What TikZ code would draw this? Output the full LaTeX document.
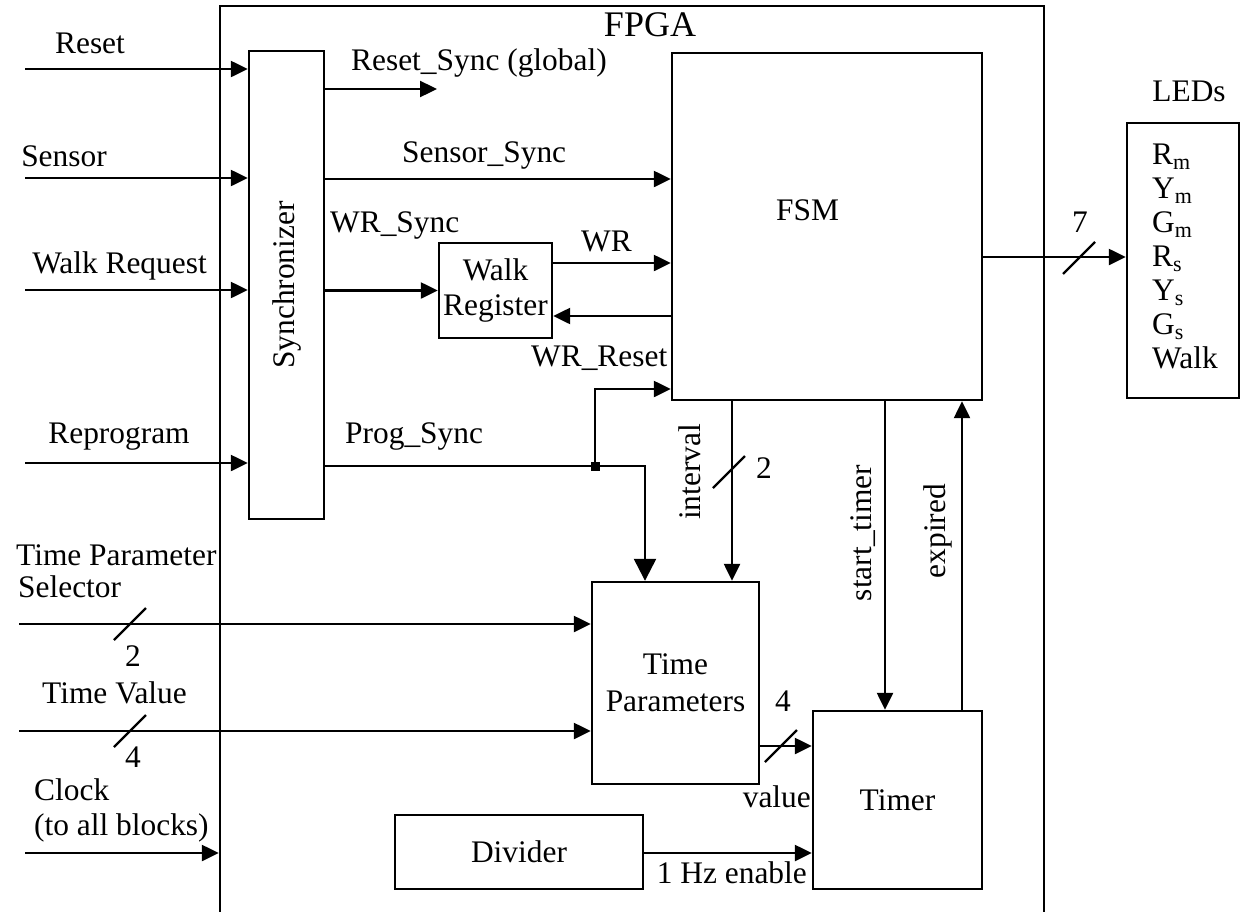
\documentclass[tikz,border=0pt]{standalone}
\usepackage{fontspec}
\setmainfont{Liberation Serif}
\usetikzlibrary{arrows.meta}

\begin{document}
\begin{tikzpicture}[x=0.5pt,y=-0.5pt,line width=1.2pt,
		font=\fontsize{15.7}{17}\selectfont,
		blk/.style={draw,rectangle,inner sep=0pt,align=center},
		sig/.style={-{Triangle[length=8.5pt,width=8pt]}},
		bigsig/.style={-{Triangle[length=11pt,width=11pt]}},
		lbl/.style={anchor=base,inner sep=0pt},
		vlbl/.style={rotate=90,inner sep=0pt}]
	\useasboundingbox (0,0) rectangle (1243,911);
	% blocks
	\node[blk,minimum width=412pt,minimum height=477pt] (fpga) at (632,483) {};
	\node[blk,minimum width=37.5pt,minimum height=234pt] (sync) at (286.5,285) {\rotatebox{90}{Synchronizer}};
	\node[blk,minimum width=155pt,minimum height=173.5pt] (fsm) at (827,226.5) {};
	\node[blk,minimum width=56.5pt,minimum height=47.5pt] (wreg) at (495.5,290.5) {Walk\\[0.5pt]Register};
	\node[blk,minimum width=83.5pt,minimum height=101pt] (tpar) at (675.5,683) {Time\\[1.5pt]Parameters};
	\node[blk,minimum width=84.5pt,minimum height=89pt] (timer) at (897.5,800) {Timer};
	\node[blk,minimum width=124pt,minimum height=37pt] (divider) at (519,852) {Divider};
	\node[blk,minimum width=56pt,minimum height=137.5pt] (leds) at (1183,260.5) {};
	\node[anchor=north west,align=left,inner sep=0pt] (ledlist) at (1151,143)
		{R\textsubscript{m}\\Y\textsubscript{m}\\G\textsubscript{m}\\R\textsubscript{s}\\Y\textsubscript{s}\\G\textsubscript{s}\\Walk};
	% inputs
	\coordinate (inRst) at (25,69);
	\coordinate (inSns) at (25,178);
	\coordinate (inWalk) at (25,290);
	\coordinate (inProg) at (25,463);
	\coordinate (inSel) at (19,624);
	\coordinate (inVal) at (19,731);
	\coordinate (inClk) at (25,853);
	\foreach \c in {inRst,inSns,inWalk,inProg}
		\draw[sig] (\c) -- (\c -| sync.west);
	\draw[sig] (inSel) -- (inSel -| tpar.west);
	\draw[sig] (inVal) -- (inVal -| tpar.west);
	\draw[sig] (inClk) -- (inClk -| fpga.west);
	% internal signals
	\coordinate (rsEnd) at (437,89);
	\draw[sig] (sync.east |- rsEnd) -- (rsEnd);
	\draw[sig] (sync.east |- 0,179) -- (fsm.west |- 0,179);
	\draw[sig] (sync.east |- wreg.west) -- (wreg.west);
	\draw[sig] (wreg.east |- 0,263) -- (fsm.west |- 0,263);
	\draw[sig] (fsm.west |- 0,316) -- (wreg.east |- 0,316);
	\node[fill,minimum size=4.5pt,inner sep=0pt] (jct) at (595,466) {};
	\draw[bigsig] (sync.east |- jct) -- (jct.center) -| (tpar.north -| 645,0);
	\draw[sig] (jct.center) |- (fsm.west |- 0,389);
	\draw[sig] (fsm.south -| 732,0) -- (tpar.north -| 732,0);
	\draw[sig] (fsm.south -| 885,0) -- (timer.north -| 885,0);
	\draw[sig] (timer.north -| 962,0) -- (fsm.south -| 962,0);
	\draw[sig] (tpar.east |- 0,746) -- (timer.west |- 0,746);
	\draw[sig] (divider.east |- 0,853) -- (timer.west |- 0,853);
	\draw[sig] (fsm.east |- 0,257) -- (leds.west |- 0,257);
	% bus marks
	\foreach \p in {(130,624),(130,731),(729,472),(781,746),(1079,258)}
		\draw \p ++(-16,16) -- ++(32,-32);
	% labels
	\node[lbl] (lRst) at (90,53) {Reset};
	\node[lbl] (lSns) at (64,166) {Sensor};
	\node[lbl] (lWalk) at (119.5,273) {Walk Request};
	\node[lbl] (lProg) at (119,443) {Reprogram};
	\node[lbl,anchor=base west] (lSel) at (15,565) {Time Parameter};
	\node[lbl,anchor=base west] (lSel2) at (17,597) {Selector};
	\node[lbl] (lSelW) at (133,666) {2};
	\node[lbl] (lVal) at (114.5,703) {Time Value};
	\node[lbl] (lValW) at (133,767) {4};
	\node[lbl,anchor=base west] (lClk) at (33,800) {Clock};
	\node[lbl,anchor=base west] (lClk2) at (33,835) {(to all blocks)};
	\node[lbl,font=\fontsize{18}{20}\selectfont] (lFpga) at (650,36) {FPGA};
	\node[lbl,anchor=base west] (lFsm) at (775,220) {FSM};
	\node[lbl,anchor=base west] (lRsS) at (350,70) {Reset\_Sync (global)};
	\node[lbl,anchor=base west] (lSnsS) at (401,162) {Sensor\_Sync};
	\node[lbl,anchor=base west] (lWrS) at (329,232) {WR\_Sync};
	\node[lbl,anchor=base west] (lWr) at (580,251) {WR};
	\node[lbl,anchor=base west] (lWrR) at (530,366) {WR\_Reset};
	\node[lbl,anchor=base west] (lProgS) at (344,443) {Prog\_Sync};
	\node[vlbl] (lInt) at (690,472) {interval};
	\node[lbl,anchor=base west] (lIntW) at (755,478) {2};
	\node[vlbl] (lStart) at (863,533) {start\_timer};
	\node[vlbl] (lExp) at (938,531) {expired};
	\node[lbl] (lTvW) at (783,711) {4};
	\node[lbl,anchor=base east] (lTv) at (812,807) {value};
	\node[lbl,anchor=base east] (lHz) at (808,883) {1 Hz enable};
	\node[lbl] (lLedW) at (1080,232) {7};
	\node[lbl] (lLeds) at (1189,101) {LEDs};
\end{tikzpicture}
\end{document}
